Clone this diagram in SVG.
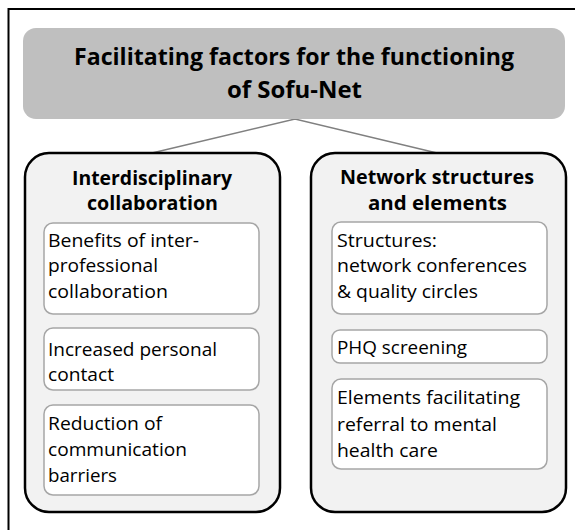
<svg xmlns="http://www.w3.org/2000/svg" width="575" height="530" viewBox="0 0 575 530">
<style>
.frame{fill:none;stroke:#000;stroke-width:2}
.hdr{fill:#bfbfbf;stroke:none}
.panel{fill:#f2f2f2;stroke:#000;stroke-width:2.5}
.item{fill:#fff;stroke:#a6a6a6;stroke-width:1.5}
.conn{fill:none;stroke:#808080;stroke-width:1.5}
text{font-family:"Open Sans","Noto Sans","Liberation Sans",sans-serif;fill:#000}
.h1{font-size:23.5px;font-weight:bold;text-anchor:middle}
.h2{font-size:20px;font-weight:bold;text-anchor:middle}
.t{font-size:18px}
</style>
<rect width="575" height="530" fill="#fff"/>
<path class="frame" d="M8.5,540 V9 H590"/>
<g id="connectors">
<path class="conn" d="M152,153 L295,119 L437,153"/>
</g>
<g id="header">
<rect class="hdr" x="23" y="28" width="542" height="91" rx="13"/>
<text class="h1" x="294" y="65" textLength="440" lengthAdjust="spacingAndGlyphs">Facilitating factors for the functioning</text>
<text class="h1" x="294.5" y="98" textLength="135" lengthAdjust="spacingAndGlyphs">of Sofu-Net</text>
</g>
<g id="interdisciplinary">
<rect class="panel" x="25" y="153" width="255" height="359" rx="24"/>
<text class="h2" x="152" y="185" textLength="160" lengthAdjust="spacingAndGlyphs">Interdisciplinary</text>
<text class="h2" x="152.5" y="210" textLength="131" lengthAdjust="spacingAndGlyphs">collaboration</text>
</g>
<g id="benefits">
<rect class="item" x="44" y="223" width="215" height="91" rx="9"/>
<text class="t" x="48" y="247" textLength="151" lengthAdjust="spacingAndGlyphs">Benefits of inter-</text>
<text class="t" x="48" y="272" textLength="110" lengthAdjust="spacingAndGlyphs">professional</text>
<text class="t" x="48" y="298" textLength="120" lengthAdjust="spacingAndGlyphs">collaboration</text>
</g>
<g id="contact">
<rect class="item" x="44" y="328" width="215" height="62" rx="9"/>
<text class="t" x="48" y="356" textLength="169" lengthAdjust="spacingAndGlyphs">Increased personal</text>
<text class="t" x="48" y="381" textLength="66" lengthAdjust="spacingAndGlyphs">contact</text>
</g>
<g id="barriers">
<rect class="item" x="44" y="405" width="215" height="90" rx="9"/>
<text class="t" x="48" y="430" textLength="114" lengthAdjust="spacingAndGlyphs">Reduction of</text>
<text class="t" x="48" y="456" textLength="139" lengthAdjust="spacingAndGlyphs">communication</text>
<text class="t" x="48" y="482" textLength="69" lengthAdjust="spacingAndGlyphs">barriers</text>
</g>
<g id="network">
<rect class="panel" x="311" y="153" width="255" height="359" rx="24"/>
<text class="h2" x="437" y="184" textLength="194" lengthAdjust="spacingAndGlyphs">Network structures</text>
<text class="h2" x="437.5" y="210" textLength="139" lengthAdjust="spacingAndGlyphs">and elements</text>
</g>
<g id="structures">
<rect class="item" x="332" y="222" width="215" height="92" rx="9"/>
<text class="t" x="337" y="247" textLength="100" lengthAdjust="spacingAndGlyphs">Structures:</text>
<text class="t" x="337" y="272" textLength="190" lengthAdjust="spacingAndGlyphs">network conferences</text>
<text class="t" x="337" y="298" textLength="141" lengthAdjust="spacingAndGlyphs">&amp; quality circles</text>
</g>
<g id="phq">
<rect class="item" x="332" y="330" width="215" height="33" rx="8"/>
<text class="t" x="337" y="354" textLength="130" lengthAdjust="spacingAndGlyphs">PHQ screening</text>
</g>
<g id="referral">
<rect class="item" x="332" y="379" width="215" height="90" rx="9"/>
<text class="t" x="337" y="404" textLength="183" lengthAdjust="spacingAndGlyphs">Elements facilitating</text>
<text class="t" x="337" y="431" textLength="160" lengthAdjust="spacingAndGlyphs">referral to mental</text>
<text class="t" x="337" y="457" textLength="101" lengthAdjust="spacingAndGlyphs">health care</text>
</g>
</svg>
